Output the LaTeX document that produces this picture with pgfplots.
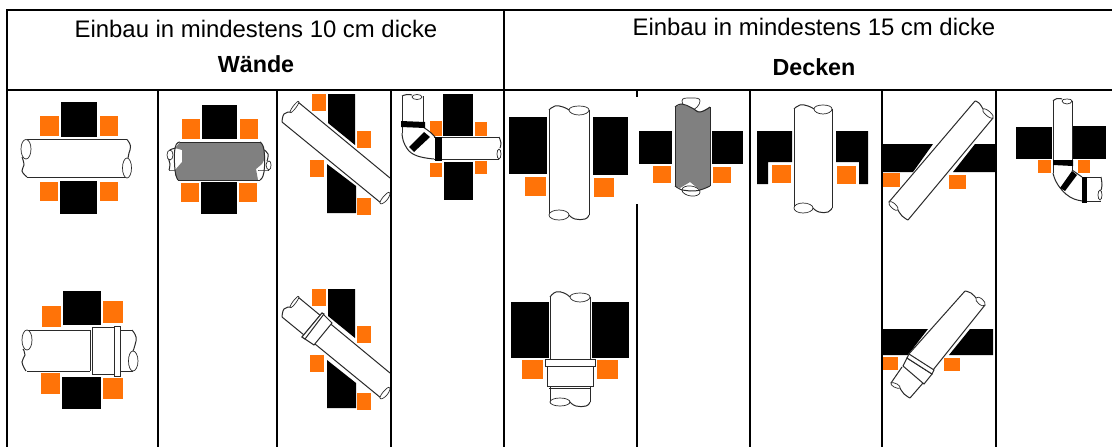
\documentclass[border=0pt]{standalone}
\usepackage{pgfplots}
\pgfplotsset{compat=1.18}
\usepackage{fontspec}
\setmainfont{Liberation Sans}
\definecolor{orng}{HTML}{FF7308}
\definecolor{pgray}{HTML}{808080}
\definecolor{ln}{HTML}{2A2A2A}
\newcommand{\Bk}[4]{\addplot[fill=black,draw=none] coordinates {(#1,#2)(#3,#2)(#3,#4)(#1,#4)} --cycle;}
\newcommand{\Or}[4]{\addplot[fill=orng,draw=none] coordinates {(#1,#2)(#3,#2)(#3,#4)(#1,#4)} --cycle;}
\newcommand{\Pl}[1]{\addplot[fill=black,draw=none] coordinates {#1} --cycle;}
\newcommand{\Pf}[1]{\addplot[fill=white,draw=none] coordinates {#1} --cycle;}
\newcommand{\Gf}[1]{\addplot[fill=pgray,draw=none] coordinates {#1} --cycle;}
\newcommand{\Ln}[1]{\addplot[color=ln,line width=1pt] coordinates {#1};}
\newcommand{\Bx}[1]{\addplot[color=ln,fill=white,line width=1pt] coordinates {#1} --cycle;}
\newcommand{\Cv}[1]{\addplot[color=ln,line width=1pt,smooth,tension=0.8] coordinates {#1};}
\newcommand{\Rg}[1]{\addplot[color=ln,fill=white,line width=0.7pt,smooth cycle,tension=1] coordinates {#1};}
\newcommand{\Rule}[1]{\addplot[color=black,line width=2pt] coordinates {#1};}
\begin{document}
\begin{tikzpicture}
\begin{axis}[
  scale only axis, width=1112pt, height=447pt,
  xmin=0, xmax=1112, ymin=0, ymax=447, y dir=reverse,
  hide axis, clip=true]
% page extent
\addplot[fill=white,draw=none] coordinates {(0,0)(1112,0)(1112,447)(0,447)} --cycle;

% ---- wall 1, row 1
\Bk{61}{102}{97}{137} \Bk{60}{181}{97}{214}
\Or{40}{116}{59}{136} \Or{100}{116}{118}{136} \Or{40}{182}{58}{201} \Or{100}{182}{118}{201}
\Pf{(26,139.5)(128,139.5)(131,150)(131,177)(26,177)(21,165)}
\Ln{(27,139.5)(127,139.5)} \Ln{(27,177)(127,177)}
\Rg{(21,149)(26,139.5)(31,149)(26,159)}
\Cv{(22,157)(24,165)(22,171)(27,177)}
\Cv{(127,139.5)(130.5,146)(129,153)(128,158)}
\Rg{(122.5,168)(127,158)(131.5,168)(127,178)}

% ---- wall 2, row 1
\Bk{202}{105}{237}{139} \Bk{201}{182}{237}{214}
\Or{182}{119}{200}{139} \Or{240}{119}{258}{139} \Or{181}{183}{199}{202} \Or{239}{183}{257}{202}
\Pf{(168,150)(182,148)(182,170)(170,170)}
\Pf{(258,150)(270,148)(270,170)(258,170)}
\Cv{(170,150)(172,149)(176,148)} \Cv{(169,170)(172,170)(176,170)} \Cv{(168,158)(170,164)(169,170)}
\Rg{(167,155)(170,150)(173,155)(170,160)}
\Rg{(266,165)(269,161)(271,165)(269,170)}
\Cv{(264,150)(268,154)(267,161)} \Cv{(258,170)(264,170)(269,170)}
\Gf{(180,142)(260,142)(264,147)(265,158)(262,164)(256,169)(258,180)(178,180)(175,175)(175,170)(182,162)(182,150)(175,148)}
\Ln{(180,142)(260,142)} \Ln{(178,180)(260,180)}
\Cv{(180,142)(175,148)(175,170)(178,180)}
\Cv{(260,142)(264,150)(264,172)(260,180)}

% ---- wall 3, row 1
\Pl{(328,94)(355,94)(355,145)(328,123)}
\Pl{(327,164)(356,186)(356,213)(327,213)}
\Or{312}{94}{326}{111} \Or{357}{131}{371}{148} \Or{310}{160}{324}{177} \Or{357}{198}{371}{215}
\Pf{(298,102)(390,178)(390,215)(381,203)(282,122)(283,112)}
\Ln{(298,102)(390,178)} \Ln{(282,122)(381,203)}
\Rg{(290,112)(295,104)(299,102)(294,110)}
\Cv{(290,112)(284,114)(282,122)}
\Rg{(380,203)(385,195)(390,193)(386,201)}

% ---- wall 4, row 1 (elbow)
\Bk{443}{94}{473}{136} \Bk{444}{162}{473}{200}
\Or{430}{121}{442}{136} \Or{475}{122}{487}{136} \Or{430}{163}{442}{177} \Or{475}{161}{487}{174}
\Pf{(402,96)(423,96)(423,125)(435,137)(501,137)(501,159)(434,159)(415,155)(402,133)}
\Ln{(402,96)(402,133)} \Ln{(423,96)(423,127)}
\Cv{(402,133)(405,145)(415,155)(434,159)}
\Cv{(423,127)(430,132)(435,137)}
\Ln{(434,137)(499,137)} \Ln{(434,159)(499,159)}
\Rg{(412,97)(417,94.5)(422,97)(417,99.5)}
\Cv{(402,96)(407,94.5)(412,95)}
\Cv{(499,137)(501,143)(500,148)}
\Rg{(497,154)(499,149)(501,154)(499,159)}
\Pl{(401,121)(425,122)(425,128)(401,127)}
\Pl{(409,147)(424,132)(430,137)(414,152)}
\Pl{(435,137)(442,137)(442,161)(435,161)}

% ---- wall 1, row 2
\Bk{63}{291}{101}{325} \Bk{62}{377}{101}{409}
\Or{42}{306}{61}{327} \Or{103}{301}{123}{323} \Or{41}{373}{60}{394} \Or{103}{378}{123}{399}
\Pf{(26,330)(135,330)(136,371)(26,371)(22,350)}
\Ln{(27,330)(90,330)} \Ln{(27,371)(90,371)}
\Rg{(22,340)(27,330)(32,340)(27,350)}
\Cv{(23,349)(25,355)(22,362)(26,371)}
\Ln{(120,330)(132,330)} \Ln{(120,371)(133,371)}
\Cv{(132,330)(136,337)(135,345)(133,351)}
\Rg{(128.5,361)(133,351)(138,361)(133,371)}
\Ln{(90,330)(90,371)}
\Bx{(92,327)(114,327)(114,374)(92,374)}
\Bx{(114,326)(120,326)(120,376)(114,376)}

% ---- wall 3, row 2
\Pl{(328,289)(355,289)(355,338)(328,316)}
\Pl{(327,360)(356,383)(356,408)(327,408)}
\Or{312}{289}{326}{306} \Or{357}{326}{371}{343} \Or{310}{355}{324}{372} \Or{357}{393}{371}{410}
\Pf{(298,297)(390,373)(390,410)(381,398)(282,317)(283,307)}
\Ln{(298,297)(390,373)} \Ln{(282,317)(381,398)}
\Rg{(290,307)(295,299)(299,297)(294,305)}
\Cv{(290,307)(284,309)(282,317)}
\Rg{(380,398)(385,390)(390,388)(386,396)}
\Bx{(322,313)(332,323)(314,345)(302,337)}
\Bx{(322,313)(324,314)(305,339)(302,337)}

% ---- floor 1, row 1
\Bk{509}{117}{547}{174} \Bk{593}{117}{628}{175}
\Or{525}{177}{546}{196} \Or{594}{178}{614}{197}
\Pf{(549,110)(589,110)(589,215)(549,215)}
\Ln{(549,110)(549,215)} \Ln{(589,110)(589,215)}
\Cv{(549,110)(555,106)(563,107)(569,110)}
\Rg{(569,110)(579,106)(589,110)(579,115)}
\Rg{(549,215)(559,210)(569,215)(559,220)}
\Cv{(569,215)(575,219)(585,219)(589,215)}

% ---- floor 2, row 1 (white patch interrupts the rule at x=637)
\Bk{639}{131}{672}{164} \Bk{712}{131}{743}{164}
\Or{653}{166}{671}{183} \Or{713}{167}{731}{183}
\Rg{(682,101)(691,98)(700,101)(691,110)}
\Rg{(682,190)(691,186)(700,192)(691,196)}
\Gf{(675,107)(682,104)(692,108)(700,112)(710,107)(710,186)(700,190)(690,182)(680,188)(675,186)}
\Cv{(675,107)(682,104)(692,108)(700,112)(710,107)}
\Ln{(675,107)(675,186)} \Ln{(710,107)(710,186)}
\Cv{(675,186)(682,190)(690,191)(700,190)(710,186)}

% ---- floor 3, row 1
\Pl{(757,131)(792,131)(792,162)(768,162)(768,184)(757,184)}
\Pl{(836,131)(868,131)(868,184)(859,184)(859,162)(836,162)}
\Or{772}{165}{791}{183} \Or{837}{166}{856}{184}
\Pf{(794,109)(832,109)(832,208)(794,208)}
\Ln{(794,109)(794,208)} \Ln{(832,109)(832,208)}
\Cv{(794,109)(800,105)(808,106)(814,109)}
\Rg{(814,109)(823,105)(832,109)(823,114)}
\Rg{(794,208)(803,203)(813,208)(803,213)}
\Cv{(813,208)(819,212)(828,212)(832,208)}

% ---- floor 4, row 1
\Pl{(883,144)(933,144)(913,172)(883,172)}
\Pl{(975,144)(995,144)(995,172)(953,172)}
\Or{883}{173}{900}{187} \Or{949}{175}{966}{189}
\Pf{(889,202)(975,101)(993,118)(908,220)}
\Ln{(889,202)(975,101)} \Ln{(908,220)(993,118)}
\Cv{(975,101)(979,103)(983,109)}
\Rg{(983,109)(990,112)(993,118)(986,115)}
\Rg{(889,202)(895,204)(898,210)(892,208)}
\Cv{(898,210)(902,216)(908,220)}

% ---- floor 5, row 1 (elbow)
\Bk{1016}{127}{1052}{159} \Bk{1073}{126}{1106}{159}
\Or{1038}{160}{1051}{173} \Or{1078}{160}{1090}{173}
\Pf{(1053,101)(1072,101)(1072,168)(1082,177)(1101,177)(1102,200)(1083,201)(1070,199)(1058,185)(1053,173)}
\Ln{(1053,101)(1053,173)} \Ln{(1072,101)(1072,170)}
\Cv{(1053,173)(1058,185)(1070,197)(1083,201)}
\Ln{(1072,170)(1082,177)} \Ln{(1082,177)(1101,177)} \Ln{(1083,201)(1101,201)}
\Cv{(1101,177)(1102,185)(1101,190)}
\Rg{(1098,195)(1100,190)(1102,195)(1100,200)}
\Rg{(1062,101)(1067,99)(1072,101)(1067,104)}
\Cv{(1053,101)(1057,98.5)(1062,99)}
\Pl{(1053,160)(1073,160)(1073,166)(1053,165)}
\Pl{(1060,188)(1072,171)(1077,175)(1065,191)}
\Pl{(1082,177)(1087,177)(1087,203)(1082,203)}

% ---- floor 1, row 2
\Bk{511}{302}{549}{358} \Bk{592}{302}{629}{358}
\Or{522}{360}{543}{379} \Or{597}{360}{618}{379}
\Pf{(550,297)(590,297)(590,359)(550,359)}
\Ln{(550,297)(550,359)} \Ln{(590,297)(590,359)}
\Cv{(550,297)(556,292)(564,293)(570,297)}
\Rg{(570,297)(580,293)(590,297)(580,302)}
\Bx{(547,366)(593,366)(593,386)(547,386)}
\Bx{(545,359)(595,359)(595,366)(545,366)}
\Pf{(550,387)(590,387)(590,402)(550,402)}
\Ln{(550,387)(550,402)} \Ln{(590,387)(590,402)} \Ln{(549,388)(591,388)}
\Rg{(550,402)(560,398)(570,402)(560,406)}
\Cv{(570,402)(576,406)(586,406)(590,402)}

% ---- floor 4, row 2
\Pl{(883,329)(928,329)(908,355)(883,355)}
\Pl{(970,329)(993,329)(993,355)(949,355)}
\Or{883}{357}{898}{370} \Or{944}{358}{960}{371}
\Pf{(908,355)(965,291)(985,305)(933,370)}
\Ln{(908,355)(965,291)} \Ln{(933,370)(985,305)}
\Cv{(965,291)(971,293)(976,298)}
\Rg{(976,298)(982,299)(985,305)(979,304)}
\Pf{(902,367)(923,383)(910,398)(891,383)}
\Ln{(902,367)(891,383)} \Ln{(923,383)(910,398)}
\Rg{(891,383)(897,384)(900,388)(894,387)}
\Cv{(900,388)(904,394)(910,398)}
\Bx{(907,358)(932,374)(924,384)(903,366)}
\Bx{(909,354)(934,370)(932,374)(907,358)}

% ---- table rules
\Rule{(6,10)(1112,10)}
\Rule{(6,90)(1112,90)}
\Rule{(7,10)(7,447)}
\Rule{(504,10)(504,447)}
\Rule{(158,90)(158,447)}
\Rule{(277,90)(277,447)}
\Rule{(391,90)(391,447)}
\Rule{(637,90)(637,97)}
\Rule{(637,204)(637,447)}
\Rule{(750,90)(750,447)}
\Rule{(882,90)(882,447)}
\Rule{(996,90)(996,447)}

% ---- header text
\node[font=\fontsize{23.9}{28}\selectfont] at (axis cs:256,29) {Einbau in mindestens 10 cm dicke};
\node[font=\fontsize{23.3}{28}\selectfont\bfseries] at (axis cs:256,64) {Wände};
\node[font=\fontsize{23.9}{28}\selectfont] at (axis cs:814,27) {Einbau in mindestens 15 cm dicke};
\node[font=\fontsize{23.3}{28}\selectfont\bfseries] at (axis cs:814,67) {Decken};
\end{axis}
\end{tikzpicture}
\end{document}
